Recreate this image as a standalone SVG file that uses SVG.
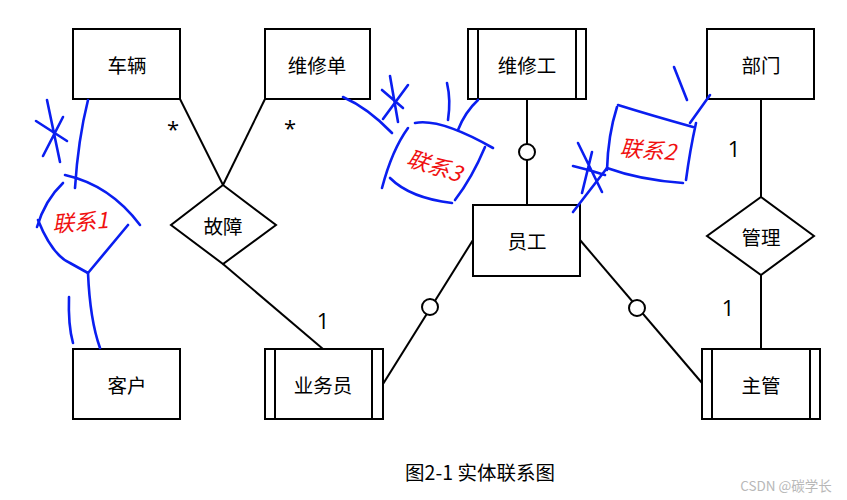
<svg xmlns="http://www.w3.org/2000/svg" width="847" height="500" viewBox="0 0 847 500">
<style>
.box{fill:#fff;stroke:#000;stroke-width:2}
.ln{fill:none;stroke:#000;stroke-width:2}
.circ{fill:#fff;stroke:#000;stroke-width:2}
.lbl{font-family:"Noto Sans CJK SC","Noto Sans",sans-serif;font-size:19.5px;fill:#000;text-anchor:middle;dominant-baseline:central}
.card{font-family:"Open Sans","Liberation Sans",sans-serif;font-size:22px;fill:#000;text-anchor:middle;dominant-baseline:central}
.blue{fill:none;stroke:#0a1ef0;stroke-width:2.6;stroke-linecap:round;stroke-linejoin:round}
.red{font-family:"Noto Sans CJK SC",sans-serif;font-size:22px;fill:#f01010;font-style:italic;text-anchor:middle;dominant-baseline:central}
</style>
<rect width="847" height="500" fill="#fff"/>
<g id="connectors">
<line class="ln" x1="180" y1="99" x2="223" y2="185"/>
<line class="ln" x1="265" y1="99" x2="223" y2="185"/>
<line class="ln" x1="223" y1="264" x2="323" y2="349"/>
<line class="ln" x1="527" y1="99" x2="527" y2="205"/>
<circle class="circ" cx="527" cy="152" r="8"/>
<line class="ln" x1="473" y1="240" x2="383" y2="384"/>
<circle class="circ" cx="430" cy="307" r="8"/>
<line class="ln" x1="580" y1="240" x2="702" y2="383"/>
<circle class="circ" cx="637" cy="308" r="8"/>
<line class="ln" x1="761" y1="99" x2="761" y2="197"/>
<line class="ln" x1="761" y1="275" x2="761" y2="349"/>
<text class="card" x="173" y="128" font-size="18">*</text>
<text class="card" x="290" y="127" font-size="18">*</text>
<text class="card" x="323" y="320">1</text>
<text class="card" x="734" y="148">1</text>
<text class="card" x="728" y="307">1</text>
</g>
<g id="n-cheliang"><rect class="box" x="73" y="29" width="107" height="70"/><text class="lbl" x="127" y="64">车辆</text></g>
<g id="n-weixiudan"><rect class="box" x="265" y="29" width="105" height="70"/><text class="lbl" x="317" y="64">维修单</text></g>
<g id="n-weixiugong"><rect class="box" x="468" y="29" width="118" height="70"/><line class="ln" x1="478" y1="29" x2="478" y2="99"/><line class="ln" x1="576" y1="29" x2="576" y2="99"/><text class="lbl" x="527" y="64">维修工</text></g>
<g id="n-bumen"><rect class="box" x="707" y="29" width="107" height="70"/><text class="lbl" x="761" y="64">部门</text></g>
<g id="n-guzhang"><polygon class="box" points="223,185 276,225 223,264 171,225"/><text class="lbl" x="223" y="225">故障</text></g>
<g id="n-yuangong"><rect class="box" x="473" y="205" width="107" height="71"/><text class="lbl" x="527" y="240">员工</text></g>
<g id="n-guanli"><polygon class="box" points="761,197 814,236 761,275 707,236"/><text class="lbl" x="761" y="236">管理</text></g>
<g id="n-kehu"><rect class="box" x="73" y="349" width="107" height="70"/><text class="lbl" x="127" y="384">客户</text></g>
<g id="n-yewuyuan"><rect class="box" x="265" y="349" width="118" height="70"/><line class="ln" x1="275" y1="349" x2="275" y2="419"/><line class="ln" x1="372" y1="349" x2="372" y2="419"/><text class="lbl" x="323" y="384">业务员</text></g>
<g id="n-zhuguan"><rect class="box" x="702" y="349" width="118" height="70"/><line class="ln" x1="712" y1="349" x2="712" y2="419"/><line class="ln" x1="810" y1="349" x2="810" y2="419"/><text class="lbl" x="761" y="384">主管</text></g>
<g id="annot-left">
<path class="blue" d="M88,100 Q78,140 75,188"/>
<path class="blue" d="M47,100 L60,162 M36,121 L67,141 M43,156 L63,117"/>
<path class="blue" d="M65,175 Q110,185 140,225"/>
<path class="blue" d="M63,183 Q45,200 37,227"/>
<path class="blue" d="M38,220 Q52,255 70,263 L88,273 L128,225"/>
<path class="blue" d="M88,273 Q90,320 100,348"/>
<path class="blue" d="M69,297 Q68,325 73,343"/>
<text class="red" x="80" y="220" transform="rotate(-4 80 220)">联系1</text>
</g>
<g id="annot-mid">
<path class="blue" d="M343,97 Q368,108 392,133"/>
<path class="blue" d="M390,76 L398,122 M382,90 L403,108 M383,119 L408,85"/>
<path class="blue" d="M447,83 Q451,100 448,120"/>
<path class="blue" d="M478,100 Q465,112 458,130"/>
<path class="blue" d="M415,123 Q440,118 493,148"/>
<path class="blue" d="M408,128 Q392,150 382,188"/>
<path class="blue" d="M390,178 Q410,198 452,203"/>
<path class="blue" d="M485,147 Q472,178 455,200"/>
<text class="red" x="435" y="164" transform="rotate(18 435 164)">联系3</text>
</g>
<g id="annot-right">
<path class="blue" d="M573,212 L607,168"/>
<path class="blue" d="M578,143 L602,192 M573,166 Q590,170 605,175 M592,152 L582,193"/>
<path class="blue" d="M618,105 Q650,115 693,127"/>
<path class="blue" d="M617,107 Q608,135 607,170"/>
<path class="blue" d="M607,168 Q640,180 683,183"/>
<path class="blue" d="M696,123 Q690,150 686,180"/>
<path class="blue" d="M710,95 L690,123"/>
<path class="blue" d="M674,67 L687,100"/>
<text class="red" x="648" y="148" transform="rotate(5 648 148)">联系2</text>
</g>
<text x="480" y="471" font-family="Noto Sans CJK SC,sans-serif" font-size="19.5" text-anchor="middle" dominant-baseline="central" fill="#000">图2-1 实体联系图</text>
<text x="786" y="485" font-family="Noto Sans CJK SC,sans-serif" font-size="13.5" text-anchor="middle" dominant-baseline="central" fill="#b8b8b8">CSDN @碳学长</text>
</svg>
